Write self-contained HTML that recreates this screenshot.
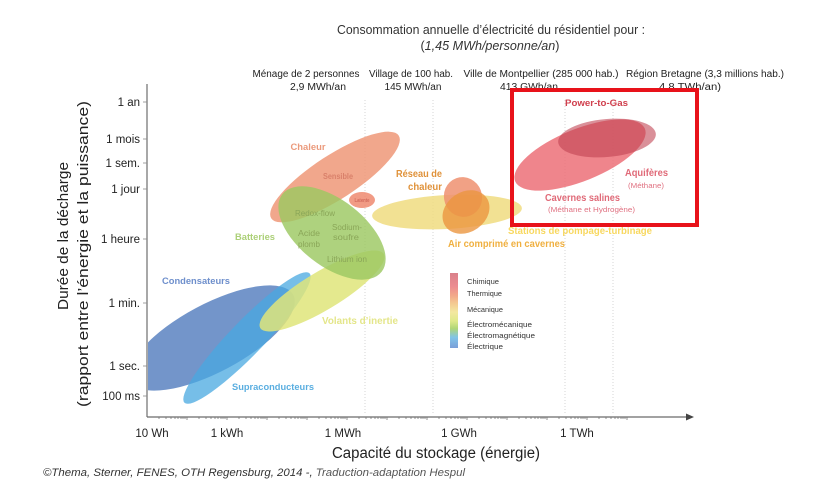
<!DOCTYPE html>
<html><head><meta charset="utf-8"><style>
html,body{margin:0;padding:0;background:#fff;}
svg{display:block;}
text{font-family:"Liberation Sans",sans-serif;}
</style></head><body>
<svg width="838" height="504" viewBox="0 0 838 504" xmlns="http://www.w3.org/2000/svg">
<defs>
<clipPath id="plot"><rect x="148" y="60" width="600" height="356"/></clipPath>
<linearGradient id="leg" x1="0" y1="0" x2="0" y2="1">
<stop offset="0" stop-color="#d9808a"/>
<stop offset="0.18" stop-color="#ec8c90"/>
<stop offset="0.30" stop-color="#f2a88a"/>
<stop offset="0.40" stop-color="#f4c890"/>
<stop offset="0.52" stop-color="#f3e8a0"/>
<stop offset="0.64" stop-color="#dfe98a"/>
<stop offset="0.74" stop-color="#b0d676"/>
<stop offset="0.86" stop-color="#80c4e8"/>
<stop offset="1" stop-color="#7a9ed8"/>
</linearGradient>
</defs>

<!-- Top titles -->
<text x="491" y="34" font-size="12.5" fill="#333" text-anchor="middle" textLength="308" lengthAdjust="spacingAndGlyphs">Consommation annuelle d’électricité du résidentiel pour :</text>
<text x="490" y="50" font-size="12.5" fill="#333" text-anchor="middle" textLength="139" lengthAdjust="spacingAndGlyphs">(<tspan font-style="italic">1,45 MWh/personne/an</tspan>)</text>

<text x="306" y="77" font-size="10" fill="#222" text-anchor="middle" textLength="107" lengthAdjust="spacingAndGlyphs">Ménage de 2 personnes</text>
<text x="318" y="90" font-size="10" fill="#222" text-anchor="middle" textLength="56" lengthAdjust="spacingAndGlyphs">2,9 MWh/an</text>
<text x="411" y="77" font-size="10" fill="#222" text-anchor="middle" textLength="84" lengthAdjust="spacingAndGlyphs">Village de 100 hab.</text>
<text x="413" y="90" font-size="10" fill="#222" text-anchor="middle" textLength="57" lengthAdjust="spacingAndGlyphs">145 MWh/an</text>
<text x="541" y="77" font-size="10" fill="#222" text-anchor="middle" textLength="155" lengthAdjust="spacingAndGlyphs">Ville de Montpellier (285 000 hab.)</text>
<text x="529" y="90" font-size="10" fill="#222" text-anchor="middle" textLength="58" lengthAdjust="spacingAndGlyphs">413 GWh/an</text>
<text x="705" y="77" font-size="10" fill="#222" text-anchor="middle" textLength="158" lengthAdjust="spacingAndGlyphs">Région Bretagne (3,3 millions hab.)</text>
<text x="690" y="90" font-size="10" fill="#222" text-anchor="middle" textLength="62" lengthAdjust="spacingAndGlyphs">4,8 TWh/an)</text>

<!-- dotted gridlines -->
<g stroke="#d4d4d4" stroke-width="1" stroke-dasharray="1,2">
<line x1="365" y1="100" x2="365" y2="415"/>
<line x1="433" y1="100" x2="433" y2="415"/>
<line x1="565" y1="100" x2="565" y2="415"/>
<line x1="613" y1="100" x2="613" y2="415"/>
</g>

<!-- Ellipses -->
<g clip-path="url(#plot)">
<ellipse cx="212" cy="338" rx="92" ry="34" transform="rotate(-28 212 338)" fill="#6489c4" opacity="0.9"/>
<ellipse cx="247" cy="338" rx="90" ry="17" transform="rotate(-46 247 338)" fill="#48a8e0" opacity="0.75"/>
<ellipse cx="322" cy="291" rx="72" ry="19" transform="rotate(-31 322 291)" fill="#dfe57a" opacity="0.85"/>
<ellipse cx="335" cy="177" rx="76" ry="22" transform="rotate(-33 335 177)" fill="#ee9878" opacity="0.85"/>
<ellipse cx="332" cy="233" rx="63" ry="33" transform="rotate(38 332 233)" fill="#9cc862" opacity="0.82"/>
<ellipse cx="362" cy="200" rx="13" ry="8" fill="#ee8a70" opacity="0.85"/>
<ellipse cx="447" cy="212" rx="75" ry="17" transform="rotate(-3 447 212)" fill="#f0dc80" opacity="0.85"/>
<ellipse cx="463" cy="197" rx="19" ry="20" transform="rotate(-20 463 197)" fill="#ee9070" opacity="0.85"/>
<ellipse cx="466" cy="212" rx="25" ry="20" transform="rotate(-35 466 212)" fill="#eb9640" opacity="0.8"/>
<ellipse cx="580" cy="155" rx="70" ry="26" transform="rotate(-22 580 155)" fill="#ec7078" opacity="0.85"/>
<ellipse cx="607" cy="138" rx="49" ry="19" transform="rotate(-5 607 138)" fill="#c04050" opacity="0.58"/>
</g>

<!-- In-chart labels -->
<g font-weight="bold">
<text x="308" y="150" font-size="9.5" fill="#eb9a7c" text-anchor="middle" textLength="35" lengthAdjust="spacingAndGlyphs">Chaleur</text>
<text x="338" y="179" font-size="8" fill="#d9806a" text-anchor="middle" textLength="30" lengthAdjust="spacingAndGlyphs">Sensible</text>
<text x="362" y="202" font-size="5" fill="#d26a5c" text-anchor="middle" textLength="15" lengthAdjust="spacingAndGlyphs">Latente</text>
<text x="419" y="177" font-size="10" fill="#e0923a" text-anchor="middle" textLength="46" lengthAdjust="spacingAndGlyphs">Réseau de</text>
<text x="425" y="190" font-size="10" fill="#e0923a" text-anchor="middle" textLength="34" lengthAdjust="spacingAndGlyphs">chaleur</text>
<text x="255" y="240" font-size="9.5" fill="#acd078" text-anchor="middle" textLength="40" lengthAdjust="spacingAndGlyphs">Batteries</text>
<text x="448" y="247" font-size="10" fill="#f0b040" text-anchor="start" textLength="117" lengthAdjust="spacingAndGlyphs">Air comprimé en cavernes</text>
<text x="508" y="234" font-size="10" fill="#f8d860" text-anchor="start" textLength="144" lengthAdjust="spacingAndGlyphs">Stations de pompage-turbinage</text>
<text x="322" y="324" font-size="10" fill="#e4e68a" text-anchor="start" textLength="76" lengthAdjust="spacingAndGlyphs">Volants d’inertie</text>
<text x="162" y="284" font-size="9.5" fill="#6e8fcc" text-anchor="start" textLength="68" lengthAdjust="spacingAndGlyphs">Condensateurs</text>
<text x="232" y="390" font-size="9.5" fill="#5aaee0" text-anchor="start" textLength="82" lengthAdjust="spacingAndGlyphs">Supraconducteurs</text>
<text x="565" y="106" font-size="9.5" fill="#d0404e" text-anchor="start" textLength="63" lengthAdjust="spacingAndGlyphs">Power-to-Gas</text>
<text x="625" y="176" font-size="10" fill="#e06a78" text-anchor="start" textLength="43" lengthAdjust="spacingAndGlyphs">Aquifères</text>
<text x="545" y="201" font-size="10" fill="#e06a78" text-anchor="start" textLength="75" lengthAdjust="spacingAndGlyphs">Cavernes salines</text>
</g>
<g fill="#8aa658" font-size="8">
<text x="295" y="216" textLength="40" lengthAdjust="spacingAndGlyphs">Redox-flow</text>
<text x="298" y="236" textLength="22" lengthAdjust="spacingAndGlyphs">Acide</text>
<text x="298" y="247" textLength="22" lengthAdjust="spacingAndGlyphs">plomb</text>
<text x="332" y="230" textLength="30" lengthAdjust="spacingAndGlyphs">Sodium-</text>
<text x="333" y="240" textLength="26" lengthAdjust="spacingAndGlyphs">soufre</text>
<text x="327" y="262" textLength="40" lengthAdjust="spacingAndGlyphs">Lithium ion</text>
</g>
<text x="628" y="188" font-size="7.5" fill="#e07080" textLength="36" lengthAdjust="spacingAndGlyphs">(Méthane)</text>
<text x="548" y="212" font-size="7.5" fill="#e07080" textLength="87" lengthAdjust="spacingAndGlyphs">(Méthane et Hydrogène)</text>

<!-- Legend -->
<rect x="450" y="273" width="8" height="75" fill="url(#leg)"/>
<g font-size="7.5" fill="#333">
<text x="467" y="284" textLength="32" lengthAdjust="spacingAndGlyphs">Chimique</text>
<text x="467" y="296" textLength="35" lengthAdjust="spacingAndGlyphs">Thermique</text>
<text x="467" y="312" textLength="36" lengthAdjust="spacingAndGlyphs">Mécanique</text>
<text x="467" y="327" textLength="65" lengthAdjust="spacingAndGlyphs">Électromécanique</text>
<text x="467" y="338" textLength="68" lengthAdjust="spacingAndGlyphs">Électromagnétique</text>
<text x="467" y="349" textLength="36" lengthAdjust="spacingAndGlyphs">Électrique</text>
</g>

<!-- Red highlight rectangle -->
<rect x="512" y="90" width="185" height="135" fill="none" stroke="#e8121a" stroke-width="4"/>

<!-- Axes -->
<line x1="147" y1="84" x2="147" y2="417" stroke="#7a7a7a" stroke-width="1.3"/>
<line x1="147" y1="417" x2="688" y2="417" stroke="#6a6a6a" stroke-width="1.3"/>
<polygon points="686,413.5 694,417 686,420.5" fill="#444"/>
<g stroke="#888" stroke-width="0.8">
<line x1="143" y1="102" x2="147" y2="102"/>
<line x1="143" y1="139" x2="147" y2="139"/>
<line x1="143" y1="163" x2="147" y2="163"/>
<line x1="143" y1="189" x2="147" y2="189"/>
<line x1="143" y1="239" x2="147" y2="239"/>
<line x1="143" y1="303" x2="147" y2="303"/>
<line x1="143" y1="366" x2="147" y2="366"/>
<line x1="143" y1="396" x2="147" y2="396"/>
</g>
<g stroke="#777" stroke-width="0.8">
<path d="M187 417v3M227 417v3M267 417v3M307 417v3M347 417v3M387 417v3M427 417v3M467 417v3M507 417v3M547 417v3M587 417v3M627 417v3"/>
<path d="M159 417v2M166 417v2M171 417v2M175 417v2M178 417v2M181 417v2M183 417v2M185 417v2
M199 417v2M206 417v2M211 417v2M215 417v2M218 417v2M221 417v2M223 417v2M225 417v2
M239 417v2M246 417v2M251 417v2M255 417v2M258 417v2M261 417v2M263 417v2M265 417v2
M279 417v2M286 417v2M291 417v2M295 417v2M298 417v2M301 417v2M303 417v2M305 417v2
M319 417v2M326 417v2M331 417v2M335 417v2M338 417v2M341 417v2M343 417v2M345 417v2
M359 417v2M366 417v2M371 417v2M375 417v2M378 417v2M381 417v2M383 417v2M385 417v2
M399 417v2M406 417v2M411 417v2M415 417v2M418 417v2M421 417v2M423 417v2M425 417v2
M439 417v2M446 417v2M451 417v2M455 417v2M458 417v2M461 417v2M463 417v2M465 417v2
M479 417v2M486 417v2M491 417v2M495 417v2M498 417v2M501 417v2M503 417v2M505 417v2
M519 417v2M526 417v2M531 417v2M535 417v2M538 417v2M541 417v2M543 417v2M545 417v2
M559 417v2M566 417v2M571 417v2M575 417v2M578 417v2M581 417v2M583 417v2M585 417v2
M599 417v2M606 417v2M611 417v2M615 417v2M618 417v2M621 417v2M623 417v2M625 417v2"/>
</g>

<!-- Y tick labels -->
<g font-size="11.5" fill="#222" text-anchor="end">
<text x="140" y="106">1 an</text>
<text x="140" y="143">1 mois</text>
<text x="140" y="167">1 sem.</text>
<text x="140" y="193">1 jour</text>
<text x="140" y="243">1 heure</text>
<text x="140" y="307">1 min.</text>
<text x="140" y="370">1 sec.</text>
<text x="140" y="400">100 ms</text>
</g>

<!-- X tick labels -->
<g font-size="11.5" fill="#222" text-anchor="middle">
<text x="152" y="437">10 Wh</text>
<text x="227" y="437">1 kWh</text>
<text x="343" y="437">1 MWh</text>
<text x="459" y="437">1 GWh</text>
<text x="577" y="437">1 TWh</text>
</g>

<!-- Axis titles -->
<text x="436" y="458" font-size="15.5" fill="#222" text-anchor="middle" textLength="208" lengthAdjust="spacingAndGlyphs">Capacité du stockage (énergie)</text>
<text transform="translate(68 236) rotate(-90)" font-size="15" fill="#222" text-anchor="middle" textLength="148" lengthAdjust="spacingAndGlyphs">Durée de la décharge</text>
<text transform="translate(88 254) rotate(-90)" font-size="15" fill="#222" text-anchor="middle" textLength="306" lengthAdjust="spacingAndGlyphs">(rapport entre l’énergie et la puissance)</text>

<!-- Footer -->
<text x="43" y="476" font-size="11" font-style="italic" fill="#333" textLength="422" lengthAdjust="spacingAndGlyphs">©Thema, Sterner, FENES, OTH Regensburg, 2014 -, <tspan fill="#555">Traduction-adaptation Hespul</tspan></text>
</svg>
</body></html>
